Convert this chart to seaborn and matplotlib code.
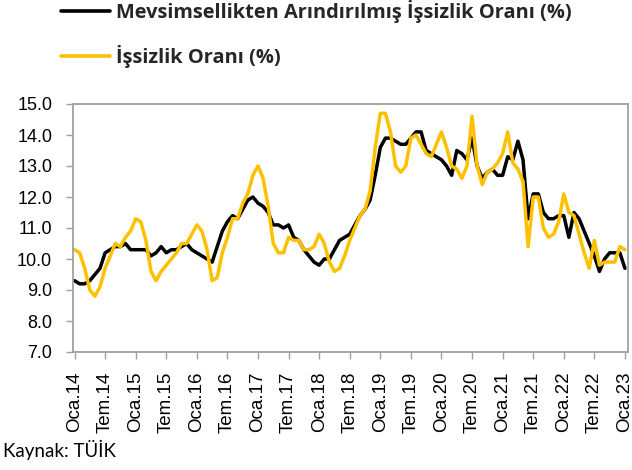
import numpy as np
import pandas as pd
import matplotlib
matplotlib.use("Agg")
import matplotlib.pyplot as plt
from matplotlib.lines import Line2D
import seaborn as sns

# Mevsimsellikten arındırılmış işsizlik oranı (%), Oca.14 - Oca.23
sa_rate = [9.3, 9.2, 9.2, 9.3, 9.5, 9.7, 10.2, 10.3, 10.4, 10.4, 10.5, 10.3,
           10.3, 10.3, 10.3, 10.1, 10.2, 10.4, 10.2, 10.3, 10.3, 10.4, 10.5, 10.3,
           10.2, 10.1, 10.0, 9.9, 10.4, 10.9, 11.2, 11.4, 11.3, 11.6, 11.9, 12.0,
           11.8, 11.7, 11.5, 11.1, 11.1, 11.0, 11.1, 10.7, 10.6, 10.3, 10.1, 9.9,
           9.8, 10.0, 10.0, 10.3, 10.6, 10.7, 10.8, 11.1, 11.4, 11.6, 11.9, 12.7,
           13.6, 13.9, 13.9, 13.8, 13.7, 13.7, 13.9, 14.1, 14.1, 13.5, 13.4, 13.3,
           13.2, 13.0, 12.7, 13.5, 13.4, 13.2, 13.9, 13.0, 12.6, 12.8, 12.9, 12.7,
           12.7, 13.3, 13.2, 13.8, 13.2, 11.3, 12.1, 12.1, 11.5, 11.3, 11.3, 11.4,
           11.4, 10.7, 11.5, 11.3, 10.9, 10.5, 10.1, 9.6, 10.0, 10.2, 10.2, 10.2,
           9.7]

# İşsizlik oranı (%), Oca.14 - Oca.23
rate = [10.3, 10.2, 9.7, 9.0, 8.8, 9.1, 9.7, 10.1, 10.5, 10.4, 10.7, 10.9,
        11.3, 11.2, 10.6, 9.6, 9.3, 9.6, 9.8, 10.0, 10.2, 10.5, 10.5, 10.8,
        11.1, 10.9, 10.3, 9.3, 9.4, 10.2, 10.7, 11.3, 11.3, 11.8, 12.1, 12.7,
        13.0, 12.6, 11.7, 10.5, 10.2, 10.2, 10.7, 10.6, 10.6, 10.3, 10.3, 10.4,
        10.8, 10.5, 9.9, 9.6, 9.7, 10.1, 10.6, 11.0, 11.4, 11.6, 12.2, 13.6,
        14.7, 14.7, 14.1, 13.0, 12.8, 13.0, 13.9, 14.0, 13.7, 13.4, 13.3, 13.7,
        14.1, 13.6, 13.0, 12.9, 12.6, 13.0, 14.6, 13.0, 12.4, 12.8, 12.9, 13.1,
        13.4, 14.1, 13.1, 12.9, 12.5, 10.4, 12.0, 12.0, 11.0, 10.7, 10.8, 11.2,
        12.1, 11.5, 11.4, 10.8, 10.2, 9.7, 10.6, 9.8, 9.9, 9.9, 9.9, 10.4,
        10.3]

tick_labels = ["Oca.14", "Tem.14", "Oca.15", "Tem.15", "Oca.16", "Tem.16",
               "Oca.17", "Tem.17", "Oca.18", "Tem.18", "Oca.19", "Tem.19",
               "Oca.20", "Tem.20", "Oca.21", "Tem.21", "Oca.22", "Tem.22",
               "Oca.23"]
y_ticks = [7.0, 8.0, 9.0, 10.0, 11.0, 12.0, 13.0, 14.0, 15.0]
series_names = ["Mevsimsellikten Arındırılmış İşsizlik Oranı (%)",
                "İşsizlik Oranı (%)"]
series_colors = ["#000000", "#FFC000"]
source_text = "Kaynak: TÜİK"

sns.set_theme(style="white")
plt.rcParams["font.family"] = ["Lato", "DejaVu Sans"]
tick_font = ["Liberation Sans", "DejaVu Sans"]
legend_font = ["Open Sans", "DejaVu Sans"]

n = len(rate)
df = pd.DataFrame({
    "ay": np.concatenate([np.arange(n), np.arange(n)]),
    "deger": sa_rate + rate,
    "seri": [series_names[0]] * n + [series_names[1]] * n,
})

fig = plt.figure(figsize=(6.32, 4.70), dpi=100)
ax = fig.add_axes([73 / 632, 1 - 352 / 470, (628 - 73) / 632, (352 - 104) / 470])

sns.lineplot(data=df, x="ay", y="deger", hue="seri", hue_order=series_names,
             palette=series_colors, linewidth=2.5, ax=ax, legend=False)

ax.set_xlim(-0.3, n - 1 + 0.6)
ax.set_ylim(7.0, 15.0)
ax.set_yticks(y_ticks)
ax.set_yticklabels([f"{v:.1f}" for v in y_ticks], fontsize=13,
                   family=tick_font, color="#000000")
ax.set_xticks(np.arange(0, n, 6))
ax.set_xticklabels(tick_labels, rotation=90, fontsize=13.5,
                   family=tick_font, color="#000000")
ax.set_xlabel("")
ax.set_ylabel("")
ax.tick_params(axis="y", direction="out", length=5, width=1.0,
               color="#A0A0A0", pad=10, left=True)
ax.tick_params(axis="x", direction="out", length=5, width=1.0,
               color="#A0A0A0", pad=9, bottom=True)
for sp in ax.spines.values():
    sp.set_color("#A0A0A0")
    sp.set_linewidth(1.3)

handles = [Line2D([], [], color=c, linewidth=2.6) for c in series_colors]
fig.legend(handles, series_names, loc="upper left",
           bbox_to_anchor=(61 / 632, 1 - 0 / 470), frameon=False,
           prop={"family": legend_font, "weight": "bold", "size": 14.4},
           handlelength=2.45, handletextpad=0.3, labelspacing=1.08,
           borderpad=0, borderaxespad=0)

fig.text(3 / 632, 1 - 457 / 470, source_text, fontsize=13.5, ha="left",
         va="baseline", color="#000000")

fig.savefig("out.png", dpi=100)
